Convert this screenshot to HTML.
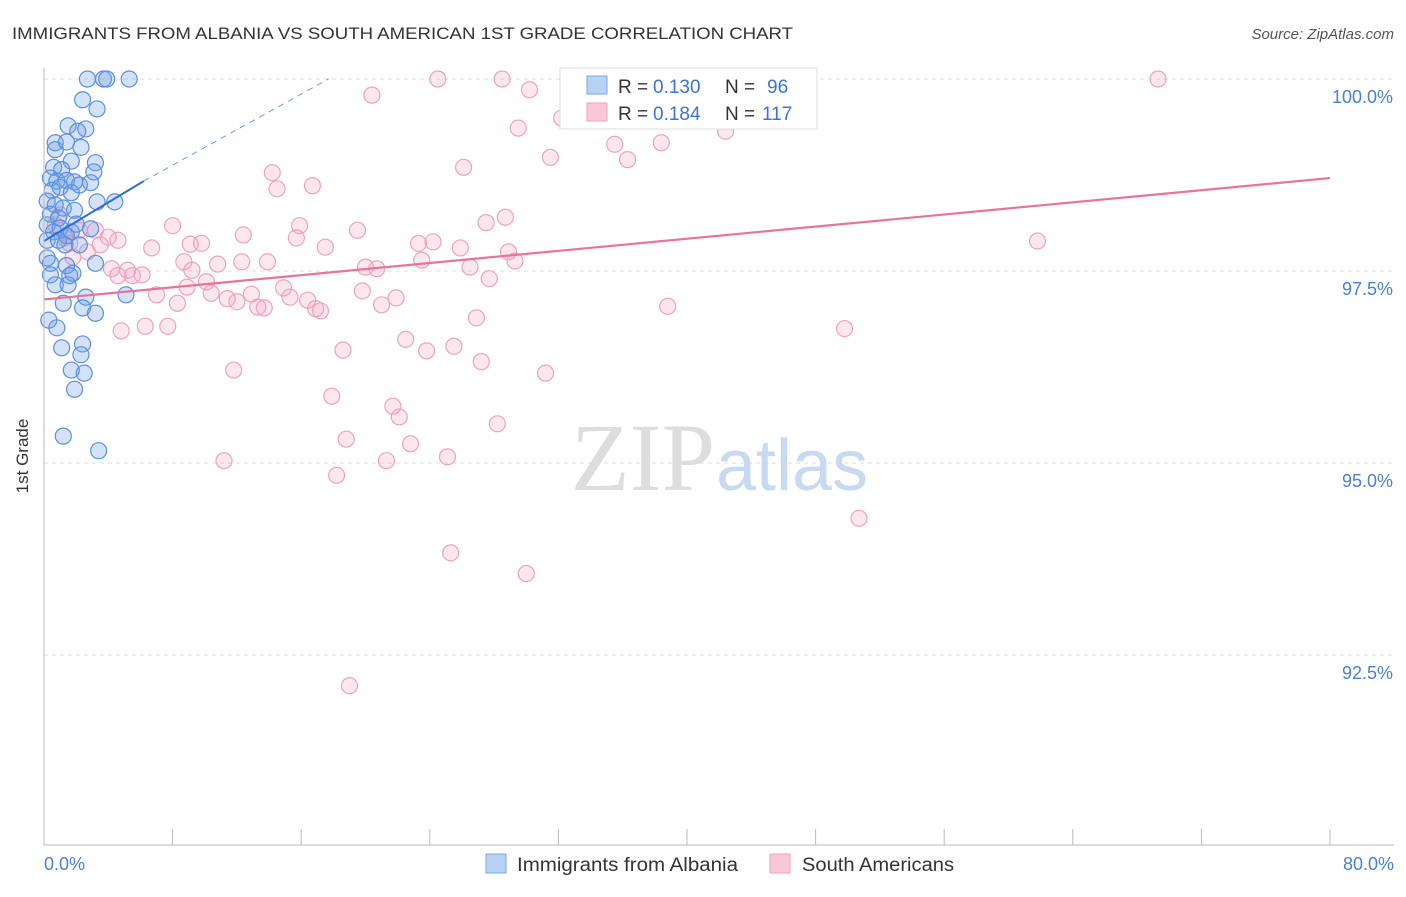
<!DOCTYPE html>
<html><head><meta charset="utf-8"><style>
body{margin:0;background:#fff;font-family:"Liberation Sans",sans-serif}
svg text{font-family:"Liberation Sans",sans-serif}
</style></head><body>
<svg width="1406" height="892">
<text x="12" y="39" font-size="17" fill="#333" textLength="781" lengthAdjust="spacingAndGlyphs">IMMIGRANTS FROM ALBANIA VS SOUTH AMERICAN 1ST GRADE CORRELATION CHART</text>
<text x="1394" y="39" font-size="15" fill="#555" text-anchor="end" font-style="italic">Source: ZipAtlas.com</text>
<g id="grid"></g>
<text x="715" y="490" font-size="96" fill="#ddd" text-anchor="end" style="font-family:'Liberation Serif',serif">ZIP</text>
<text x="716" y="490" font-size="72" fill="#c8daf2">atlas</text>
<g id="pts"></g>
<g id="lines"></g>
<line x1="44" y1="68" x2="44" y2="845" stroke="#bbb"/>
<line x1="44" y1="845" x2="1394" y2="845" stroke="#bbb"/>
<text x="28" y="456" font-size="17" fill="#333" text-anchor="middle" transform="rotate(-90 28 456)">1st Grade</text>
<text x="44" y="870" font-size="18" fill="#4a7fd6">0.0%</text>
<text x="1394" y="870" font-size="18" fill="#4a7fd6" text-anchor="end">80.0%</text>
<g>
<rect x="560" y="68" width="257" height="61" fill="#fff" stroke="#ddd"/>
<rect x="587" y="76" width="20" height="18" fill="#b8d2f4" stroke="#7aa6e6"/>
<rect x="587" y="103" width="20" height="18" fill="#f9c7d7" stroke="#eea0bb"/>
<text x="618" y="93" font-size="19" fill="#333">R =</text>
<text x="653" y="93" font-size="19" fill="#3b73d6">0.130</text>
<text x="725" y="93" font-size="19" fill="#333">N =</text>
<text x="767" y="93" font-size="19" fill="#3b73d6">96</text>
<text x="618" y="120" font-size="19" fill="#333">R =</text>
<text x="653" y="120" font-size="19" fill="#3b73d6">0.184</text>
<text x="725" y="120" font-size="19" fill="#333">N =</text>
<text x="762" y="120" font-size="19" fill="#3b73d6">117</text>
</g>
<g>
<rect x="486" y="854" width="20" height="19" fill="#b8d2f4" stroke="#7aa6e6"/>
<text x="517" y="871" font-size="19" fill="#333" textLength="221" lengthAdjust="spacingAndGlyphs">Immigrants from Albania</text>
<rect x="770" y="854" width="20" height="19" fill="#f9c7d7" stroke="#eea0bb"/>
<text x="802" y="871" font-size="19" fill="#333" textLength="152" lengthAdjust="spacingAndGlyphs">South Americans</text>
</g>
</svg>
<script>
const yTicks=[100,97.5,95,92.5];
const yTickLabels=["100.0%","97.5%","95.0%","92.5%"];
const xTicks=[0,8,16,24,32,40,48,56,64,72,80];
const blueX=[2.7,3.7,3.9,5.3,2.4,3.3,1.5,2.1,2.6,0.7,0.7,1.4,2.3,1.7,3.2,0.6,1.1,3.1,0.4,0.8,1.4,1.9,2.9,2.2,1.0,0.5,1.7,3.3,4.4,0.2,0.7,1.2,1.9,0.4,0.9,0.2,1.0,0.6,1.7,1.4,0.2,0.9,2.0,2.9,0.2,0.4,1.4,1.8,1.6,3.2,0.7,1.5,2.6,5.1,1.2,2.4,3.2,0.3,0.8,2.4,1.1,2.3,1.7,2.5,1.9,1.2,3.4,0.4,1.3,2.2];
const blueY=[100,100,100,100,99.73,99.61,99.39,99.32,99.35,99.17,99.08,99.18,99.11,98.93,98.91,98.85,98.82,98.79,98.71,98.67,98.68,98.66,98.65,98.62,98.59,98.55,98.52,98.40,98.40,98.41,98.36,98.32,98.29,98.24,98.19,98.10,98.06,98.01,98.01,97.96,97.90,97.90,98.11,98.05,97.67,97.60,97.57,97.47,97.44,97.60,97.32,97.32,97.16,97.19,97.08,97.02,96.95,96.86,96.76,96.55,96.50,96.41,96.21,96.17,95.96,95.35,95.16,97.45,97.84,97.84];
const pinkX=[24.5,28.5,32.7,69.3,20.4,30.2,29.5,32.2,35.5,38.4,36.3,31.5,42.4,26.1,14.2,14.5,16.7,28.7,27.5,8.0,15.9,19.5,12.4,15.7,9.8,9.1,6.7,17.5,23.3,24.2,25.9,28.9,61.8,23.5,29.3,4.0,3.5,2.7,4.6,8.7,10.8,12.3,13.9,9.2,20.0,20.7,26.5,4.2,5.2,5.5,6.1,4.6,27.7,8.9,10.4,10.1,7.0,8.3,11.4,12.0,12.9,13.3,13.7,14.9,15.3,16.4,16.9,17.2,19.8,21.0,21.9,38.8,26.9,4.8,6.3,7.7,22.5,23.8,25.5,18.6,27.2,31.2,49.8,11.8,17.9,21.7,22.1,28.2,18.8,22.8,11.2,21.3,25.1,18.2,50.7,25.3,30.0,19.0,1.0,0.7,1.3,1.6,3.2,2.2,1.8];
const pinkY=[100,100,100,100,99.79,99.86,99.36,99.49,99.15,99.17,98.95,98.98,99.32,98.85,98.78,98.57,98.61,98.20,98.13,98.09,98.09,98.03,97.97,97.93,97.86,97.85,97.80,97.81,97.86,97.88,97.80,97.75,97.89,97.64,97.63,97.94,97.84,97.75,97.90,97.62,97.59,97.62,97.62,97.51,97.55,97.53,97.55,97.53,97.51,97.44,97.45,97.44,97.40,97.29,97.21,97.36,97.19,97.08,97.14,97.10,97.20,97.03,97.02,97.28,97.16,97.12,97.01,96.98,97.24,97.06,97.15,97.04,96.89,96.72,96.78,96.78,96.61,96.46,96.52,96.47,96.32,96.17,96.75,96.21,95.87,95.74,95.60,95.51,95.31,95.25,95.03,95.03,95.08,94.84,94.28,93.83,93.56,92.10,98.23,98.10,97.93,97.86,98.03,98.03,97.68];
const blueTrend=[[0,97.89],[6.2,98.67],[17.7,100]];
const pinkTrend=[[0,97.13],[80,98.71]];
const NS="http://www.w3.org/2000/svg";
const sx=v=>44+v/80*1286, sy=v=>79+(100-v)/2.5*192;
function mk(t,a,p){const e=document.createElementNS(NS,t);for(const k in a)e.setAttribute(k,a[k]);p.appendChild(e);return e;}
const grid=document.getElementById('grid');
yTicks.forEach((t,i)=>{
 const l=mk('line',{x1:44,x2:1394,y1:sy(t),y2:sy(t),stroke:'#ddd','stroke-dasharray':'4,4'},grid);
 
 
 const tx=mk('text',{x:1393,y:sy(t)+24,'font-size':18,fill:'#4a7fd6','text-anchor':'end'},grid);
 tx.textContent=yTickLabels[i];
 
 
});
xTicks.forEach(t=>{
 const l=mk('line',{x1:sx(t),x2:sx(t),y1:829,y2:845,stroke:'#bbb'},grid);
 
 
});
const pts=document.getElementById('pts');
pinkX.forEach((x,i)=>{
 const c=mk('circle',{cx:sx(x),cy:sy(pinkY[i]),r:8,fill:'rgba(244,160,190,0.25)',stroke:'#f0a2bd','stroke-width':1.2},pts);
 
 
});
blueX.forEach((x,i)=>{
 const c=mk('circle',{cx:sx(x),cy:sy(blueY[i]),r:8,fill:'rgba(110,160,230,0.3)',stroke:'#5d8fe0','stroke-width':1.2},pts);
 
 
});
const lines=document.getElementById('lines');
const b1=mk('line',{x1:sx(blueTrend[0][0]),y1:sy(blueTrend[0][1]),x2:sx(blueTrend[1][0]),y2:sy(blueTrend[1][1]),stroke:'#2b6fd6','stroke-width':2},lines);


const b2=mk('line',{x1:sx(blueTrend[1][0]),y1:sy(blueTrend[1][1]),x2:sx(blueTrend[2][0]),y2:sy(blueTrend[2][1]),stroke:'#6f9de6','stroke-width':1,'stroke-dasharray':'6,5'},lines);


const p1=mk('line',{x1:sx(pinkTrend[0][0]),y1:sy(pinkTrend[0][1]),x2:sx(pinkTrend[1][0]),y2:sy(pinkTrend[1][1]),stroke:'#e8739c','stroke-width':2.2},lines);


</script>
</body></html>
